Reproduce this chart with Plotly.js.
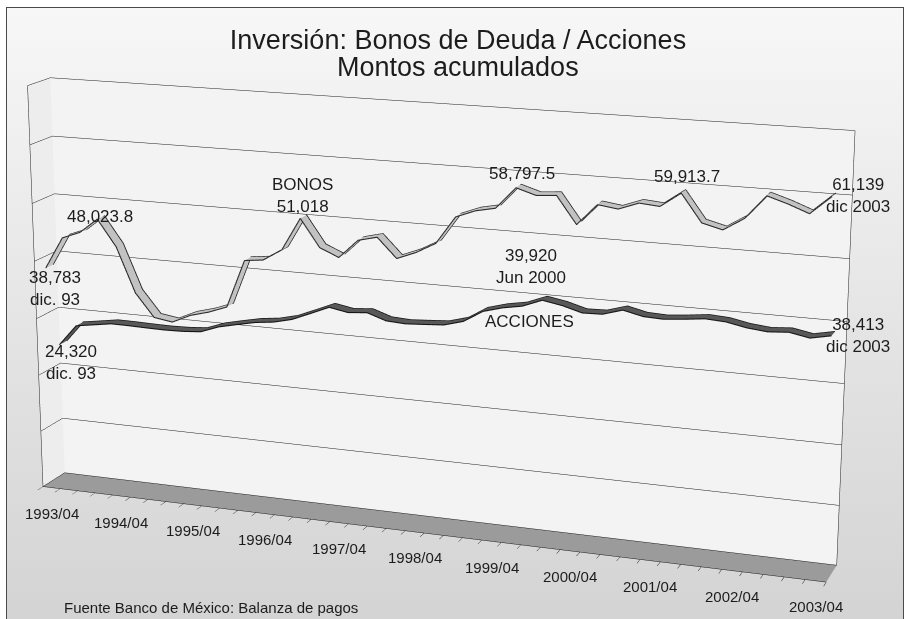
<!DOCTYPE html>
<html>
<head>
<meta charset="utf-8">
<script src="https://cdn.plot.ly/plotly-3.0.1.min.js"></script>
<style>
html, body { margin:0; padding:0; width:907px; height:619px; overflow:hidden; background:#ffffff; }
#frame { position:absolute; left:6px; top:7px; width:896px; height:640px; border:1px solid #4a4a4a;
         background:linear-gradient(#f7f7f7, #d2d2d2); overflow:hidden; }
#chart { position:absolute; }
</style>
</head>
<body>
<div id="frame"><div id="chart"></div></div>
<script>
// ---- data ----
const quarters = [
  '1993/04',
  '1994/01','1994/02','1994/03','1994/04',
  '1995/01','1995/02','1995/03','1995/04',
  '1996/01','1996/02','1996/03','1996/04',
  '1997/01','1997/02','1997/03','1997/04',
  '1998/01','1998/02','1998/03','1998/04',
  '1999/01','1999/02','1999/03','1999/04',
  '2000/01','2000/02','2000/03','2000/04',
  '2001/01','2001/02','2001/03','2001/04',
  '2002/01','2002/02','2002/03','2002/04',
  '2003/01','2003/02','2003/03','2003/04'
];
const bonos = [38783, 44280, 45490, 48023.8, 43570, 35900, 31970, 31480, 32930, 33790,
  34970, 43150, 43520, 45490, 51018, 46420, 45050, 48170, 48950, 45710,
  46990, 48750, 53330, 54580, 55250, 58797.5, 57810, 58070, 53650, 57100,
  56650, 57850, 57570, 59913.7, 55500, 54660, 56700, 60500, 59470, 58230, 61139];
const acciones = [24320, 28000, 28480, 28970, 28940, 28860, 28810, 28880, 29120, 30270,
  30980, 31650, 32020, 32790, 34110, 35460, 34870, 35150, 34070, 33880,
  34080, 34300, 35200, 37170, 38070, 38650, 39920, 39340, 38430, 38520,
  39500, 38750, 38610, 38920, 39300, 39100, 38450, 38120, 38360, 37740, 38413];
// shown tick labels (every fourth quarter)
const tickLabels = ['1993/04','1994/04','1995/04','1996/04','1997/04','1998/04',
  '1999/04','2000/04','2001/04','2002/04','2003/04'];
// data labels: [series, quarter, text]
const dataLabels = [
  ['bonos', '1993/04', '38,783<br>dic. 93'],
  ['bonos', '1994/03', '48,023.8'],
  ['bonos', '1997/02', 'BONOS<br>51,018'],
  ['bonos', '2000/01', '58,797.5'],
  ['bonos', '2002/01', '59,913.7'],
  ['bonos', '2003/04', '61,139<br>dic 2003'],
  ['acciones', '1993/04', '24,320<br>dic. 93'],
  ['acciones', '2000/02', '39,920<br>Jun 2000'],
  ['acciones', '2000/02', 'ACCIONES'],
  ['acciones', '2003/04', '38,413<br>dic 2003']
];
const titleLine1 = 'Inversión: Bonos de Deuda / Acciones';
const titleLine2 = 'Montos acumulados';
const sourceText = 'Fuente Banco de México: Balanza de pagos';

// ---- view geometry (big viewport so perspective is gentle) ----
const VIEW = 2228;
const FRAME_L = 7, FRAME_T = 8;
const CX = 423, CY = 320;            // where the box centre lands in the window
const divLeft = CX - FRAME_L - VIEW / 2;
const divTop = CY - FRAME_T - VIEW / 2;
const chart = document.getElementById('chart');
chart.style.left = divLeft + 'px';
chart.style.top = divTop + 'px';
const px2x = ix => (ix - FRAME_L - divLeft) / VIEW;
const px2y = iy => 1 - (iy - FRAME_T - divTop) / VIEW;

const idx = quarters.map((q, i) => i);
const series = { bonos: bonos, acciones: acciones };
// ribbon depth bands (front, back) on the depth axis [0,1]
const band = { bonos: [0.12, 0.42], acciones: [0.6, 0.9] };
const mid = k => (band[k][0] + band[k][1]) / 2;
const FONT = 'Liberation Sans, Arial, sans-serif';
const TXT = '#1c1c1c';

const shifts = [[6,-22],[-1,1],[-1,21],[3,13],[3,15],[24,-1],[8,-20],[-14,32],[-15,-23],[25,-2]];

const labelAnn = dataLabels.map((d, k) => {
  const i = quarters.indexOf(d[1]);
  return {
    x: i, y: mid(d[0]), z: series[d[0]][i], text: d[2], showarrow: false,
    xshift: shifts[k][0], yshift: shifts[k][1],
    font: { family: FONT, size: 17, color: TXT }
  };
});
const tickAnn = tickLabels.map(t => ({
  x: quarters.indexOf(t), y: 0, z: 0, text: t, showarrow: false, yshift: -26,
  font: { family: FONT, size: 15, color: TXT }
}));

function ribbon(vals, b, fill) {
  const x = [], y = [], z = [], I = [], J = [], K = [];
  vals.forEach((v, n) => { x.push(n, n); y.push(b[0], b[1]); z.push(v, v); });
  for (let n = 0; n < vals.length - 1; n++) {
    const a = 2 * n;
    I.push(a, a + 1); J.push(a + 1, a + 3); K.push(a + 2, a + 2);
  }
  return {
    type: 'mesh3d', x: x, y: y, z: z, i: I, j: J, k: K, color: fill,
    flatshading: true, showscale: false, hoverinfo: 'skip',
    lighting: { ambient: 1, diffuse: 0, specular: 0, roughness: 1, fresnel: 0 }
  };
}
function edge(vals, dep, color) {
  return {
    type: 'scatter3d', mode: 'lines', x: idx, y: idx.map(() => dep), z: vals,
    line: { color: color, width: 2.2 }, hoverinfo: 'skip', showlegend: false
  };
}

const traces = [
  ribbon(acciones, band.acciones, '#585858'),
  edge(acciones, band.acciones[0] - 0.015, '#161616'),
  edge(acciones, band.acciones[1] + 0.015, '#161616'),
  ribbon(bonos, band.bonos, '#c2c2c2'),
  edge(bonos, band.bonos[0] - 0.015, '#2a2a2a'),
  edge(bonos, band.bonos[1] + 0.015, '#2a2a2a')
];

const eyeDist = 6.48;
const layout = {
  width: VIEW, height: VIEW,
  margin: { l: 0, r: 0, t: 0, b: 0, pad: 0 },
  paper_bgcolor: 'rgba(0,0,0,0)',
  showlegend: false,
  title: {
    text: titleLine1, xref: 'container', yref: 'container',
    x: px2x(458), y: px2y(40), xanchor: 'center', yanchor: 'middle',
    font: { family: FONT, size: 27, color: TXT }
  },
  annotations: [
    { text: titleLine2, xref: 'paper', yref: 'paper', x: px2x(458), y: px2y(67),
      xanchor: 'center', yanchor: 'middle', showarrow: false,
      font: { family: FONT, size: 27, color: TXT } },
    { text: sourceText, xref: 'paper', yref: 'paper', x: px2x(62), y: px2y(607),
      xanchor: 'left', yanchor: 'middle', showarrow: false,
      font: { family: FONT, size: 15, color: TXT } }
  ],
  scene: {
    domain: { x: [0, 1], y: [0, 1] },
    aspectmode: 'manual',
    aspectratio: { x: 2.03, y: 0.12, z: 1.04 },
    camera: {
      eye: { x: eyeDist * 0.3304, y: -eyeDist * 0.9077, z: eyeDist * 0.2588 },
      center: { x: 0, y: 0, z: 0 }, up: { x: 0, y: 0, z: 1 },
      projection: { type: 'perspective' }
    },
    xaxis: {
      range: [-0.5, 40.5], autorange: false,
      tickvals: quarters.concat(['']).map((q, i) => i - 0.5),
      showticklabels: false,
      ticks: 'outside', ticklen: 9, tickcolor: TXT, tickwidth: 1,
      showgrid: false, zeroline: false, showline: true, linecolor: TXT, linewidth: 1,
      showbackground: true, backgroundcolor: '#ededed', showspikes: false,
      title: { text: '' }
    },
    yaxis: {
      range: [0, 1], autorange: false, showgrid: false, zeroline: false, showline: false,
      showticklabels: false, ticks: '', showbackground: true, backgroundcolor: '#f3f3f3',
      showspikes: false, title: { text: '' }
    },
    zaxis: {
      range: [0, 70000], autorange: false, tick0: 0, dtick: 10000,
      showgrid: true, gridcolor: TXT, gridwidth: 1, zeroline: false,
      showline: true, mirror: true, linecolor: TXT, linewidth: 1,
      showticklabels: false, ticks: '', showbackground: true, backgroundcolor: '#9b9b9b',
      showspikes: false, title: { text: '' }
    },
    annotations: labelAnn.concat(tickAnn)
  }
};

Plotly.newPlot(chart, traces, layout, { displayModeBar: false, responsive: false });
</script>
</body>
</html>
